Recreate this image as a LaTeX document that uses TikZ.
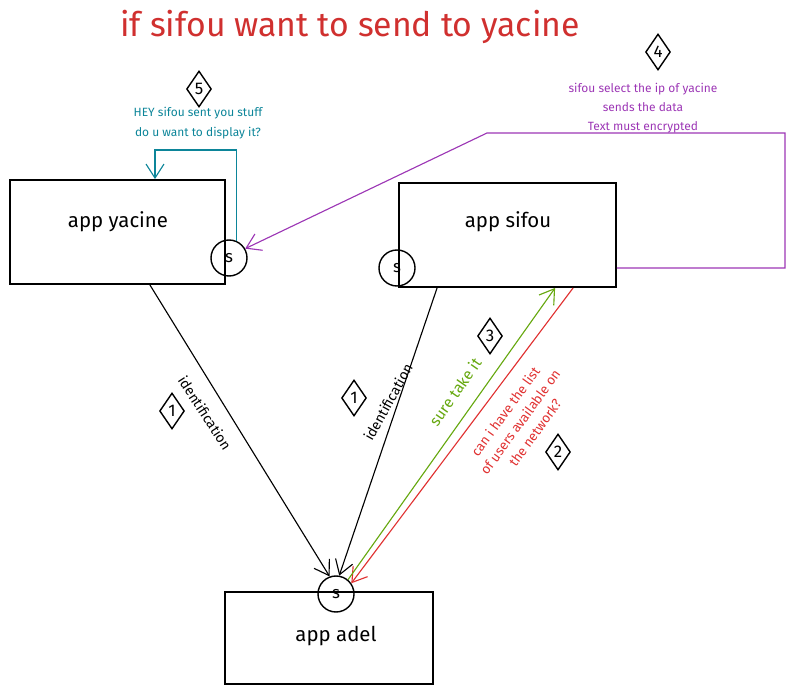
\documentclass[tikz,border=0pt]{standalone}
\usepackage{fontspec}
\setmainfont{Fira Sans}
\usetikzlibrary{shapes.geometric,arrows.meta}

\definecolor{titlered}{HTML}{D0302F}
\definecolor{redline}{HTML}{E03131}
\definecolor{tealline}{HTML}{0C8599}
\definecolor{purpleline}{HTML}{9C36B5}
\definecolor{greenline}{HTML}{66A80F}

\begin{document}
\begin{tikzpicture}[x=0.025cm,y=-0.025cm,
	appbox/.style={draw,line width=1.3pt,inner sep=0pt,minimum height=2.6cm},
	apptext/.style={font=\fontsize{14.5}{17}\selectfont},
	scircle/.style={draw,circle,line width=1pt,minimum size=0.9cm,inner sep=0pt,font=\fontsize{12}{14}\selectfont},
	numdiamond/.style={draw,diamond,line width=1pt,minimum width=0.62cm,minimum height=0.9cm,inner sep=0pt,font=\fontsize{12}{14}\selectfont},
	arr/.style={line width=0.8pt,-{Straight Barb[length=3.5mm,width=4.5mm]}},
	lbl/.style={font=\fontsize{10}{12}\selectfont,align=center,inner sep=1pt}]

	\useasboundingbox (0,0) rectangle (797,695);

	% Titol
	\node[text=titlered,font=\fontsize{24}{28}\selectfont] (title) at (350,27) {if sifou want to send to yacine};

	% Caixes
	\node[appbox,minimum width=5.375cm] (yacine) at (117.5,232) {};
	\node[appbox,minimum width=5.425cm] (sifou) at (507.5,235) {};
	\node[appbox,minimum width=5.2cm,minimum height=2.3cm] (adel) at (329,638) {};
	\node[apptext] (yacinetxt) at (118,222) {app yacine};
	\node[apptext] (sifoutxt) at (508,222) {app sifou};
	\node[apptext] (adeltxt) at (336,636) {app adel};

	% Cercles s
	\node[scircle] (sy) at (229,258) {s};
	\node[scircle] (ss) at (397,268) {s};
	\node[scircle] (sa) at (336,594) {s};

	% Identificacio
	\draw[arr] ([xshift=0.81cm]yacine.south) -- (sa.110);
	\draw[arr] ([xshift=-1.76cm]sifou.south) -- (sa.80);
	\node[lbl,rotate=-57] (id1) at (205,413) {identification};
	\node[lbl,rotate=61] (id2) at (388,402) {identification};
	\node[numdiamond] (d1a) at (172,411) {1};
	\node[numdiamond] (d1b) at (354,398) {1};

	% Llista d'usuaris
	\draw[arr,redline] ([xshift=1.64cm]sifou.south) -- (sa.35);
	\draw[arr,greenline] (sa.50) -- ([xshift=1.19cm]sifou.south);
	\node[lbl,text=redline,rotate=54,font=\fontsize{9.5}{13}\selectfont] (ask) at (520,422) {can i have the list\\of users available on\\the network?};
	\node[lbl,text=greenline,rotate=55,font=\fontsize{11}{13}\selectfont] (sure) at (455,392) {sure take it};
	\node[numdiamond] (d2) at (558,452) {2};
	\node[numdiamond] (d3) at (490,336) {3};

	% Enviament de dades
	\coordinate (p1) at (785,268);
	\coordinate (p2) at (785,133);
	\coordinate (p3) at (487,133);
	\draw[arr,purpleline] (sifou.east |- p1) -- (p1) -- (p2) -- (p3) -- (sy.30);
	\node[lbl,text=purpleline,font=\fontsize{8.5}{13.5}\selectfont] (send) at (643,108) {sifou select the ip of yacine\\sends the data\\Text must encrypted};
	\node[numdiamond] (d4) at (658,52) {4};

	% Avis a yacine
	\coordinate (t5) at (155,150);
	\draw[arr,tealline] (sy.65) |- (t5) -- (t5 |- yacine.north);
	\node[lbl,text=tealline,font=\fontsize{8.5}{14}\selectfont] (hey) at (198,123) {HEY sifou sent you stuff\\do u want to display it?};
	\node[numdiamond] (d5) at (199,89) {5};

\end{tikzpicture}
\end{document}
